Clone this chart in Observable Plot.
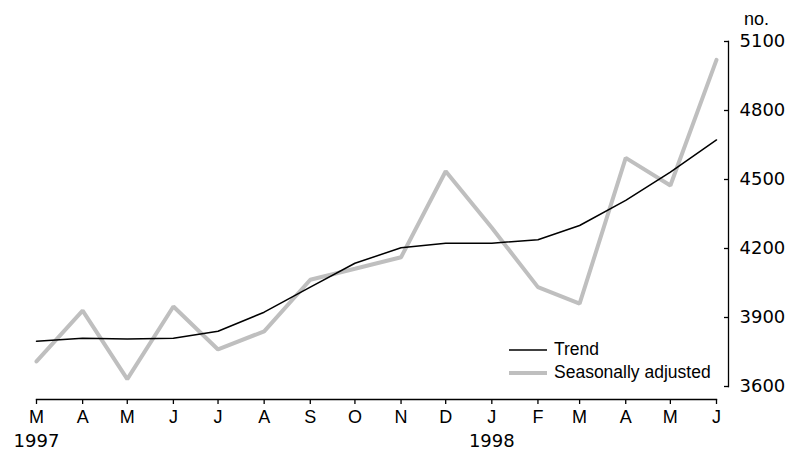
<!DOCTYPE html>
<html>
<head>
<meta charset="utf-8">
<script src="https://cdn.jsdelivr.net/npm/d3@7"></script>
<script src="https://cdn.jsdelivr.net/npm/@observablehq/plot@0.6"></script>
<style>
  html, body { margin: 0; padding: 0; background: #fff; }
  #wrap { position: relative; width: 796px; height: 454px; font-family: "Liberation Sans", Arial, sans-serif; }
  #legend { position: absolute; left: 509px; top: 338px; font-size: 17.5px; color: #000; line-height: 23px; }
  #legend .row { display: flex; align-items: center; height: 23px; }
  #legend svg { margin-right: 7px; }
</style>
</head>
<body>
<div id="wrap">
  <div id="chart"></div>
  <div id="legend"></div>
</div>
<script>
// Months (March 1997 to June 1998)
const months = ["1997-03","1997-04","1997-05","1997-06","1997-07","1997-08","1997-09","1997-10","1997-11","1997-12","1998-01","1998-02","1998-03","1998-04","1998-05","1998-06"];
const monthLetters = ["M","A","M","J","J","A","S","O","N","D","J","F","M","A","M","J"];
const yearTicks = ["1997-03","1998-01"];
const yearLabels = ["1997","1998"];
// Series values (no.)
const trend =    [3797, 3810, 3806, 3810, 3840, 3923, 4032, 4136, 4203, 4223, 4223, 4238, 4300, 4409, 4532, 4672];
const seasonal = [3709, 3930, 3632, 3948, 3761, 3840, 4064, 4112, 4162, 4536, 4290, 4032, 3960, 4594, 4474, 5020];
const yTicks = [3600, 3900, 4200, 4500, 4800, 5100];
const seriesNames = ["Trend", "Seasonally adjusted"];
const unitLabel = "no.";

const parse = s => new Date(s + "-01T00:00:00Z");
const dates = months.map(parse);
const letterOf = new Map(months.map((m, i) => [+parse(m), monthLetters[i]]));
const yearOf = new Map(yearTicks.map((m, i) => [+parse(m), yearLabels[i]]));

const rows = [];
months.forEach((m, i) => {
  rows.push({date: dates[i], value: trend[i], series: seriesNames[0]});
  rows.push({date: dates[i], value: seasonal[i], series: seriesNames[1]});
});

const numFont = "DejaVu Sans";
const chart = Plot.plot({
  width: 796,
  height: 454,
  marginLeft: 36,
  marginRight: 68,
  marginTop: 41,
  marginBottom: 55,
  style: {fontFamily: "Liberation Sans, Arial, sans-serif", fontSize: "18px", color: "#000", background: "#fff"},
  x: {type: "utc", domain: [dates[0], dates[dates.length - 1]], insetRight: 12},
  y: {domain: [3600, 5100], insetBottom: 13},
  marks: [
    Plot.frame({anchor: "bottom", insetRight: 12, stroke: "#000", strokeWidth: 1.3}),
    Plot.frame({anchor: "right", insetBottom: 13, stroke: "#000", strokeWidth: 1.3}),
    Plot.axisX(dates, {anchor: "bottom", tickSize: 5, tickPadding: 6, label: null,
      tickFormat: d => letterOf.get(+d), strokeWidth: 1.3}),
    Plot.axisX(yearTicks.map(parse), {anchor: "bottom", tickSize: 0, tickPadding: 35, label: null,
      tickFormat: d => yearOf.get(+d), fontFamily: numFont}),
    Plot.axisY(yTicks, {anchor: "right", tickSize: 5, insetRight: 5, tickPadding: 11, label: null,
      tickFormat: d => String(d), fontFamily: numFont, strokeWidth: 1.3}),
    Plot.text([unitLabel], {frameAnchor: "top-right", text: d => d, dx: 28, dy: -22, lineAnchor: "middle", textAnchor: "middle"}),
    Plot.line(rows.filter(d => d.series === seriesNames[1]), {x: "date", y: "value", stroke: "#bfbfbf", strokeWidth: 4, strokeLinejoin: "miter"}),
    Plot.line(rows.filter(d => d.series === seriesNames[0]), {x: "date", y: "value", stroke: "#000", strokeWidth: 1.5})
  ]
});
document.getElementById("chart").appendChild(chart);

// Legend
const legend = document.getElementById("legend");
const legendStyles = [{stroke: "#000", w: 1.5}, {stroke: "#bfbfbf", w: 4}];
seriesNames.forEach((name, i) => {
  const row = document.createElement("div");
  row.className = "row";
  row.innerHTML = `<svg width="38" height="10"><line x1="0" x2="38" y1="5" y2="5" stroke="${legendStyles[i].stroke}" stroke-width="${legendStyles[i].w}"/></svg><span>${name}</span>`;
  legend.appendChild(row);
});
</script>
</body>
</html>
